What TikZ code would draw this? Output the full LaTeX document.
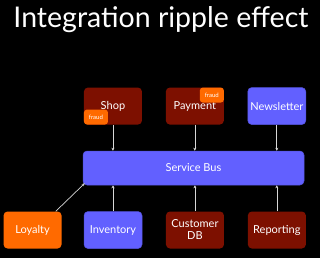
\documentclass[tikz,border=0pt]{standalone}
\usepackage{fontspec}
\setmainfont{Lato}
\usetikzlibrary{positioning, arrows.meta}
\definecolor{busblue}{RGB}{98,96,255}
\definecolor{darkred}{RGB}{125,16,0}
\definecolor{hotorange}{RGB}{255,106,0}
\definecolor{arrowgray}{RGB}{215,215,215}

\begin{document}
\begin{tikzpicture}[
    x=1pt, y=1pt,
    node distance=26pt and 23.5pt,
    box/.style={
        rectangle,
        rounded corners=4pt,
        minimum width=58pt,
        minimum height=37pt,
        inner sep=1pt,
        align=center,
        text=white,
        font=\fontsize{11}{12}\selectfont
    },
    boxblue/.style={
        box,
        fill=busblue,
        draw=busblue!85!black,
        line width=0.5pt
    },
    boxred/.style={
        box,
        fill=darkred
    },
    boxorange/.style={
        box,
        fill=hotorange
    },
    badge/.style={
        rectangle,
        rounded corners=3pt,
        fill=hotorange,
        minimum width=24pt,
        minimum height=15pt,
        inner sep=0pt,
        text=white,
        font=\fontsize{6}{7}\selectfont
    },
    arrow/.style={
        -{Stealth[length=3pt, width=3pt]},
        line width=0.7pt,
        color=arrowgray
    }
]
\fill[black] (0,0) rectangle (320,-258);
\useasboundingbox (0,0) rectangle (320,-258);

% Title
\node[anchor=base, text=white, font=\fontsize{28.5}{32}\selectfont] (title) at (161,-27) {Integration ripple effect};

% Nodes
\node[boxblue, minimum width=221pt, minimum height=34pt] (bus) at (193.5,-168) {Service Bus};
\node[boxred, above right=26pt and 1pt of bus.north west, anchor=south west] (shop) {Shop};
\node[boxred, right=of shop] (payment) {Payment};
\node[boxblue, right=of payment] (news) {Newsletter};
\node[boxblue, below right=26pt and 1pt of bus.south west, anchor=north west] (inventory) {Inventory};
\node[boxred, right=of inventory] (customer) {Customer\\DB};
\node[boxred, right=of customer] (reporting) {Reporting};
\node[boxorange, left=22pt of inventory] (loyalty) {Loyalty};

% Fraud badges
\node[badge, anchor=south west] (fraudshop) at (shop.south west) {fraud};
\node[badge, anchor=north east] (fraudpay) at (payment.north east) {fraud};

% Arrows into the bus
\draw[arrow] (shop) -- (bus.north -| shop);
\draw[arrow] (payment) -- (bus.north -| payment);
\draw[arrow] (news) -- (bus.north -| news);
\draw[arrow] (inventory) -- (bus.south -| inventory);
\draw[arrow] (customer) -- (bus.south -| customer);
\draw[arrow] (reporting) -- (bus.south -| reporting);
\draw[arrow] ([xshift=-6pt]loyalty.north east) -- ([shift={(2pt,2pt)}]bus.south west);

\end{tikzpicture}
\end{document}
